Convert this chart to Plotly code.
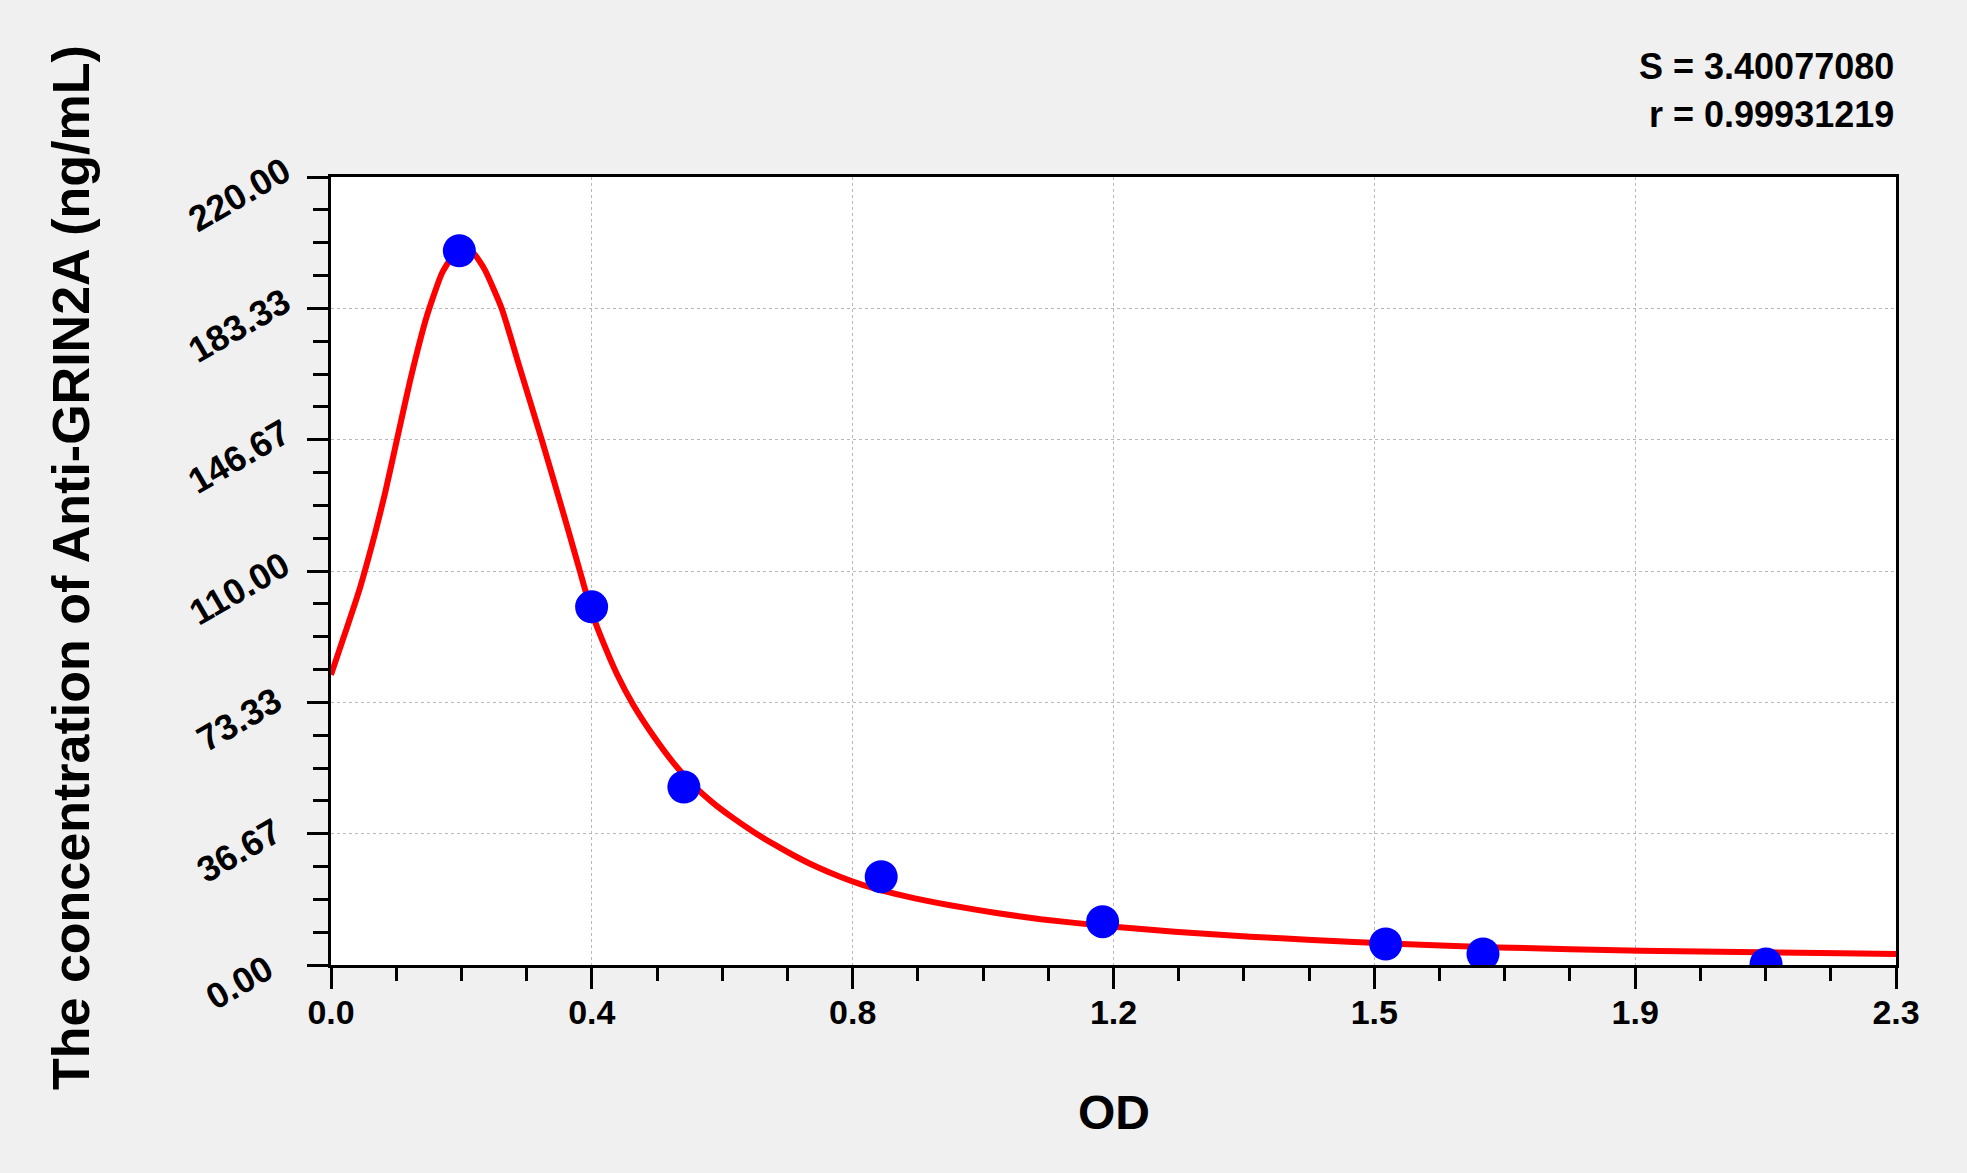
import plotly.graph_objects as go

# Standard points (OD, concentration)
od_points = [0.1886, 0.383, 0.5186, 0.8086, 1.134, 1.550, 1.693, 2.109]
conc_points = [199.4, 100.0, 49.7, 24.65, 12.1, 5.86, 3.07, 0.28]

# Fitted curve
curve_od = [0.0, 0.0206, 0.0402, 0.0647, 0.0794, 0.0966, 0.1161, 0.1406, 0.1627, 0.1800,
            0.1945, 0.2100, 0.2263, 0.2509, 0.2778, 0.3097, 0.334, 0.350, 0.365, 0.3831,
            0.4002, 0.4198, 0.4443, 0.4737, 0.503, 0.5324, 0.5618, 0.5912, 0.620, 0.650,
            0.683, 0.716, 0.750, 0.781, 0.847, 0.912, 0.978, 1.043, 1.142, 1.240,
            1.351, 1.442, 1.564, 1.716, 1.924, 2.219, 2.3]
curve_conc = [81.0, 92.6, 103.8, 120.5, 131.7, 146.4, 163.0, 181.0, 193.0, 198.2,
              199.6, 198.6, 194.0, 183.3, 166.5, 146.67, 131.0, 120.5, 110.5, 98.5,
              90.0, 81.4, 72.6, 64.0, 56.5, 50.2, 45.2, 41.0, 37.3, 33.8,
              30.3, 27.2, 24.5, 22.4, 19.1, 16.6, 14.5, 12.8, 10.8, 9.3,
              7.9, 7.0, 5.9, 4.9, 4.0, 3.3, 3.1]

x_tick_labels = ["0.0", "0.4", "0.8", "1.2", "1.5", "1.9", "2.3"]
y_tick_labels = ["0.00", "36.67", "73.33", "110.00", "146.67", "183.33", "220.00"]
x_max = 2.3
y_max = 220.0
stats_lines = ["S = 3.40077080", "r = 0.99931219"]
x_title = "OD"
y_title = "The concentration of Anti-GRIN2A (ng/mL)"

W, H = 1967, 1173
L, R, T, B = 331, 71, 177, 208
PW = W - L - R
PH = H - T - B

n = len(x_tick_labels) - 1
x_tickvals = [i * x_max / n for i in range(n + 1)]
y_tickvals = [i * y_max / n for i in range(n + 1)]

FONT = "Liberation Sans, Arial, sans-serif"

fig = go.Figure()
fig.add_trace(go.Scatter(x=curve_od, y=curve_conc, mode="lines",
                         line=dict(color="#ff0000", width=6, shape="spline", smoothing=0.5),
                         showlegend=False, hoverinfo="skip"))
fig.add_trace(go.Scatter(x=od_points, y=conc_points, mode="markers",
                         marker=dict(color="#0000ff", size=33, line=dict(width=0)),
                         showlegend=False))

axis_common = dict(showline=True, linecolor="black", linewidth=3, mirror=True,
                   ticks="outside", ticklen=21, tickwidth=3, tickcolor="black",
                   showgrid=True, gridcolor="#b8b8b8", gridwidth=1, griddash="dot",
                   zeroline=False,
                   tickfont=dict(family=FONT, size=34, color="black", weight="bold"))

fig.update_xaxes(range=[0, x_max], tickmode="array", tickvals=x_tickvals, ticktext=x_tick_labels,
                 ticklabelstandoff=-6,
                 minor=dict(tickmode="linear", tick0=0, dtick=x_max / 24, ticks="outside",
                            ticklen=13, tickwidth=3, tickcolor="black", showgrid=False),
                 **axis_common)
fig.update_yaxes(range=[0, y_max], tickmode="array", tickvals=y_tickvals, showticklabels=False,
                 minor=dict(tickmode="linear", tick0=0, dtick=y_max / 24, ticks="outside",
                            ticklen=15, tickwidth=3, tickcolor="black", showgrid=False),
                 **axis_common)

def px_to_paper_y(py):
    return (H - B - py) / PH

def px_to_paper_x(px):
    return (px - L) / PW

# rotated y tick labels
for v, lab in zip(y_tickvals, y_tick_labels):
    fig.add_annotation(text=lab, xref="paper", yref="y", x=px_to_paper_x(239), y=v,
                       xanchor="center", yanchor="middle", yshift=-17, textangle=-30,
                       showarrow=False,
                       font=dict(family=FONT, size=36, color="black", weight="bold"))

annotations = [
    dict(text=stats_lines[0], x=1.0, xanchor="right", y=px_to_paper_y(66), yanchor="middle"),
    dict(text=stats_lines[1], x=1.0, xanchor="right", y=px_to_paper_y(114), yanchor="middle"),
]
for a in annotations:
    a.update(xref="paper", yref="paper", showarrow=False,
             font=dict(family=FONT, size=36, color="black", weight="bold"))
    fig.add_annotation(**a)

fig.add_annotation(text=x_title, xref="paper", yref="paper", x=0.5, xanchor="center",
                   y=px_to_paper_y(1112), yanchor="middle", showarrow=False,
                   font=dict(family=FONT, size=48, color="black", weight="bold"))
fig.add_annotation(text=y_title, xref="paper", yref="paper", x=px_to_paper_x(71), xanchor="center",
                   y=px_to_paper_y(568), yanchor="middle", textangle=-90, showarrow=False,
                   font=dict(family=FONT, size=52, color="black", weight="bold"))

fig.update_layout(width=W, height=H, autosize=False,
                  margin=dict(l=L, r=R, t=T, b=B, pad=0),
                  paper_bgcolor="#f0f0f0", plot_bgcolor="white")

fig.write_html("out.html", config={"displayModeBar": False},
               post_script="document.body.style.margin='0';document.body.style.background='#f0f0f0';")
